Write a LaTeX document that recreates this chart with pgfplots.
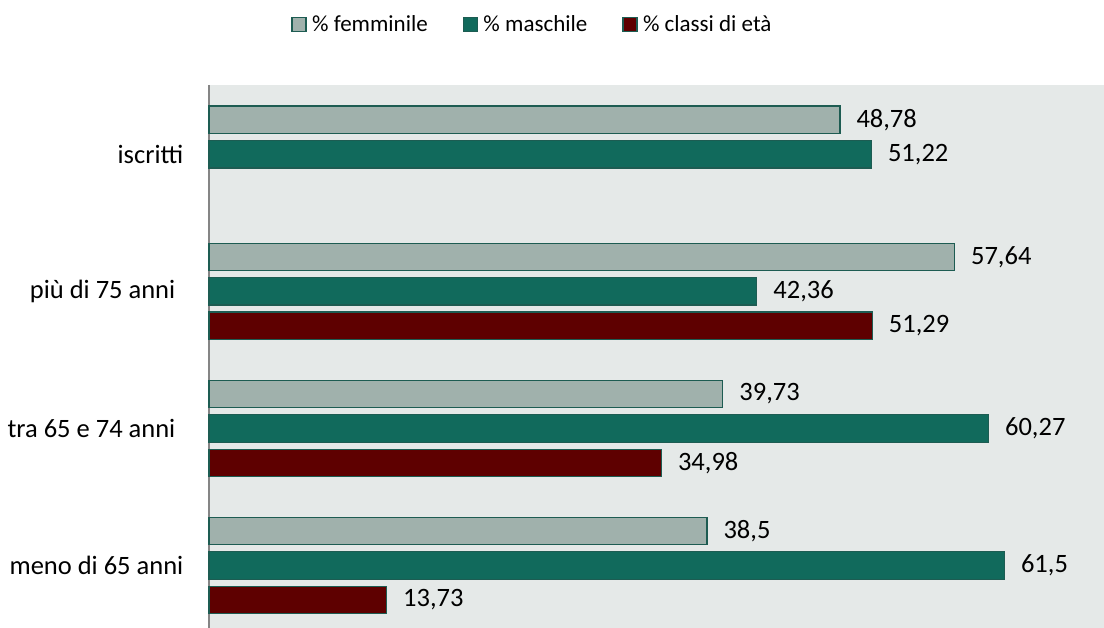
\documentclass[border=0pt]{standalone}
\usepackage{pgfplots}
\pgfplotsset{compat=1.18}
\usepackage{pgfplotstable}
\usepackage{fontspec}
\setmainfont{Carlito}
\definecolor{bgc}{HTML}{E5E9E8}
\definecolor{femc}{HTML}{A0B1AC}
\definecolor{masc}{HTML}{116A5C}
\definecolor{clac}{HTML}{5E0000}
\definecolor{bord}{HTML}{1D5C52}
\definecolor{axc}{HTML}{858585}
\pgfplotsset{sqleg/.style={legend image code/.code={\draw[##1] (0pt,-7pt) rectangle (14pt,7pt);}}}

\pgfplotstableread{
y x lab
0 48.78 48,78
1 57.64 57,64
2 39.73 39,73
3 38.5 38,5
}\fem
\pgfplotstableread{
y x lab
0 51.22 51,22
1 42.36 42,36
2 60.27 60,27
3 61.5 61,5
}\mas
\pgfplotstableread{
y x lab
1 51.29 51,29
2 34.98 34,98
3 13.73 13,73
}\cla

\begin{document}
\begin{tikzpicture}[font=\fontsize{26.5}{30}\selectfont]
\useasboundingbox (0,0) rectangle (1104pt,628pt);
\begin{axis}[
  at={(209pt,0pt)}, anchor=south west,
  scale only axis, width=895pt, height=543pt,
  xmin=0, xmax=69.2, ymin=-0.505, ymax=3.456,
  y dir=reverse,
  axis x line=none,
  axis y line*=left,
  y axis line style={draw=axc, line width=2pt},
  axis background/.style={fill=bgc},
  ytick={0,1,2,3},
  yticklabels={iscritti, più di 75 anni\rule{8pt}{0pt}, tra 65 e 74 anni\rule{8pt}{0pt}, meno di 65 anni},
  major tick length=0pt,
  yticklabel style={anchor=east, inner sep=0pt, xshift=-25.5pt},
  clip=false,
  point meta=explicit symbolic,
  nodes near coords,
  every node near coord/.append style={anchor=west, inner sep=0pt, xshift=16pt, text=black},
  bar width=0.2,
  legend columns=3,
  legend cell align=left,
  legend style={at={(0.3603,1.1114)}, anchor=center, draw=none, fill=none,
    font=\fontsize{23}{27}\selectfont,
    nodes={inner sep=0pt},
    /tikz/every odd column/.append style={column sep=5.5pt},
    /tikz/every even column/.append style={column sep=35pt}},
]
\addplot[xbar, fill=femc, draw=bord, line width=1.2pt, bar shift=-0.2516, sqleg,
  every node near coord/.append style={yshift=34.5pt}]
  table[x=x, y=y, meta=lab] {\fem};
\addlegendentry{\% femminile}
\addplot[xbar, fill=masc, draw=bord, line width=1.2pt, bar shift=0, sqleg]
  table[x=x, y=y, meta=lab] {\mas};
\addlegendentry{\% maschile}
\addplot[xbar, fill=clac, draw=bord, line width=1.2pt, bar shift=0.2516, sqleg,
  every node near coord/.append style={yshift=-34.5pt}]
  table[x=x, y=y, meta=lab] {\cla};
\addlegendentry{\% classi di età}
\end{axis}
\end{tikzpicture}
\end{document}
